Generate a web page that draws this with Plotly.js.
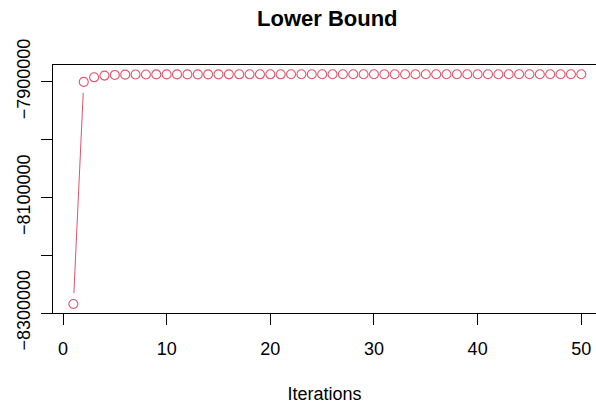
<!DOCTYPE html>
<html>
<head>
<meta charset="utf-8">
<script src="https://cdn.plot.ly/plotly-3.0.1.min.js"></script>
<style>html,body{margin:0;padding:0;background:#fff;}#plot{width:596px;height:404px;}</style>
</head>
<body>
<div id="plot"></div>
<script>
const iterations = [1,2,3,4,5,6,7,8,9,10,11,12,13,14,15,16,17,18,19,20,21,22,23,24,25,26,27,28,29,30,31,32,33,34,35,36,37,38,39,40,41,42,43,44,45,46,47,48,49,50];
const lowerBound = [-8284500,-7900200,-7892300,-7889300,-7888200,-7887700,-7887500,-7887400,-7887300,-7887250,
  -7887220,-7887200,-7887180,-7887160,-7887150,-7887140,-7887130,-7887120,-7887110,-7887100,
  -7887100,-7887090,-7887090,-7887080,-7887080,-7887070,-7887070,-7887060,-7887060,-7887050,
  -7887050,-7887050,-7887040,-7887040,-7887040,-7887030,-7887030,-7887030,-7887020,-7887020,
  -7887020,-7887010,-7887010,-7887010,-7887000,-7887000,-7887000,-7887000,-7886990,-7886990];
const yTickVals = [-8300000,-8200000,-8100000,-8000000,-7900000];
const yTickText = ['\u22128300000','','\u22128100000','','\u22127900000'];
const xTickVals = [0,10,20,30,40,50];
const titleText = 'Lower Bound';
const xTitle = 'Iterations';

const col = '#DF536B';
const font = 'Liberation Sans, Arial, Helvetica, sans-serif';

const markers = {
  x: iterations, y: lowerBound, type: 'scatter', mode: 'markers',
  marker: {symbol: 'circle-open', size: 9, color: col, line: {width: 1.1, color: col}},
  hoverinfo: 'skip', showlegend: false, cliponaxis: false
};

const layout = {
  width: 596, height: 404,
  margin: {l: 53, r: 0, t: 65, b: 91, pad: 0},
  paper_bgcolor: '#fff', plot_bgcolor: '#fff',
  showlegend: false,
  font: {family: font, color: '#000', size: 18},
  title: {text: titleText, font: {family: font, size: 22, weight: 'bold', color: '#000'},
          xref: 'container', x: 327.3/596, xanchor: 'center',
          yref: 'container', y: 1 - 18/404, yanchor: 'middle'},
  xaxis: {
    range: [-0.965, 51.42], tickvals: xTickVals, ticktext: xTickVals.map(String),
    showgrid: false, zeroline: false, showline: true, mirror: true, linecolor: '#000', linewidth: 1,
    ticks: 'outside', ticklen: 11, tickwidth: 1, tickcolor: '#000',
    tickfont: {size: 18, family: font, color: '#000'}, ticklabelstandoff: 8,
    title: {text: xTitle, font: {size: 18, family: font, color: '#000'}, standoff: 34}
  },
  yaxis: {
    range: [-8300000, -7871000], tickvals: yTickVals, ticktext: yTickText,
    showgrid: false, zeroline: false, showline: true, mirror: false, linecolor: '#000', linewidth: 1,
    ticks: 'outside', ticklen: 11, tickwidth: 1, tickcolor: '#000', tickangle: -90,
    tickfont: {size: 18, family: font, color: '#000'}, ticklabelstandoff: 4
  }
};

const gd = document.getElementById('plot');
Plotly.newPlot(gd, [markers], layout, {staticPlot: true}).then(function () {
  const xa = gd._fullLayout.xaxis, ya = gd._fullLayout.yaxis;
  const gap = 11;
  const lx = [], ly = [];
  for (let i = 0; i < iterations.length - 1; i++) {
    const x0 = xa.l2p(iterations[i]), y0 = ya.l2p(lowerBound[i]);
    const x1 = xa.l2p(iterations[i+1]), y1 = ya.l2p(lowerBound[i+1]);
    const dx = x1 - x0, dy = y1 - y0, d = Math.sqrt(dx*dx + dy*dy);
    if (d <= 2*gap) continue;
    const ux = dx/d, uy = dy/d;
    lx.push(xa.p2l(x0 + ux*gap), xa.p2l(x1 - ux*gap), null);
    ly.push(ya.p2l(y0 + uy*gap), ya.p2l(y1 - uy*gap), null);
  }
  return Plotly.addTraces(gd, {x: lx, y: ly, type: 'scatter', mode: 'lines',
    line: {color: col, width: 1}, hoverinfo: 'skip', showlegend: false, connectgaps: false}, 0);
});
</script>
</body>
</html>
